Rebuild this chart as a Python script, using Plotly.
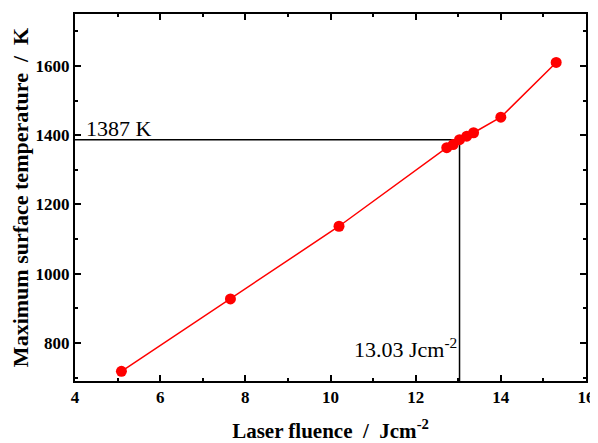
import plotly.graph_objects as go

fluence = [5.09, 7.65, 10.2, 12.73, 12.88, 13.03, 13.2, 13.36, 14.0, 15.3]
temperature = [718, 927, 1137, 1364, 1373, 1387, 1397, 1407, 1452, 1610]
threshold_fluence = 13.03
threshold_temp = 1387
x_range = [4, 16]
y_range = [690, 1750]
x_ticks = [4, 6, 8, 10, 12, 14, 16]
y_ticks = [800, 1000, 1200, 1400, 1600]

FONT = "Liberation Serif"

fig = go.Figure()
fig.add_trace(go.Scatter(
    x=[x_range[0], threshold_fluence, threshold_fluence],
    y=[threshold_temp, threshold_temp, y_range[0]],
    mode="lines", line=dict(color="black", width=1.5),
    showlegend=False, hoverinfo="skip"))
fig.add_trace(go.Scatter(
    x=fluence, y=temperature, mode="lines+markers",
    line=dict(color="#ff0000", width=1.5),
    marker=dict(color="#ff0000", size=11),
    showlegend=False))

fig.add_annotation(x=x_range[0], y=threshold_temp, xref="x", yref="y",
                   text=f"{threshold_temp} K", showarrow=False,
                   xanchor="left", yanchor="bottom", xshift=9, yshift=-3,
                   font=dict(family=FONT, size=22, color="black"))
fig.add_annotation(x=threshold_fluence, y=785, xref="x", yref="y",
                   text=f"{threshold_fluence:.2f} Jcm<sup>-2</sup>", showarrow=False,
                   xanchor="right", yanchor="middle", xshift=-1,
                   font=dict(family=FONT, size=22, color="black"))

axis_common = dict(
    showline=True, linecolor="black", linewidth=2, mirror="ticks",
    ticks="inside", ticklen=6, tickwidth=2, tickcolor="black",
    showgrid=False, zeroline=False, automargin=False,
    tickfont=dict(family=FONT, size=17, color="black"),
    minor=dict(ticks="inside", ticklen=3, tickwidth=2, tickcolor="black"),
)

fig.update_xaxes(range=x_range, tickvals=x_ticks,
                 ticktext=[f"<b>{v}</b>" for v in x_ticks],
                 minor_dtick=1, minor_tick0=0,
                 title=dict(text="<b>Laser fluence  /  Jcm<sup>-2</sup></b>",
                            font=dict(family=FONT, size=21, color="black"),
                            standoff=18),
                 **axis_common)
fig.update_yaxes(range=y_range, tickvals=y_ticks,
                 ticktext=[f"<b>{v}</b>" for v in y_ticks],
                 minor_dtick=100, minor_tick0=0,
                 title=dict(text="<b>Maximum surface temperature  /  K</b>",
                            font=dict(family=FONT, size=22, color="black"),
                            standoff=8),
                 **axis_common)

fig.update_layout(
    width=590, height=435,
    margin=dict(l=67, r=12, t=6, b=62),
    plot_bgcolor="white", paper_bgcolor="white",
    font=dict(family=FONT, color="black"),
)

fig.write_html("out.html")
